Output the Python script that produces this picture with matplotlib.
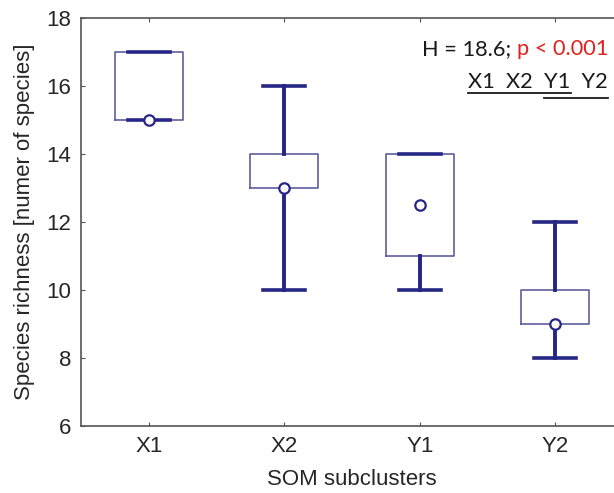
import matplotlib
matplotlib.use("Agg")
import matplotlib.pyplot as plt
from matplotlib.lines import Line2D

# box summary per SOM subcluster
groups = ["X1", "X2", "Y1", "Y2"]
medians = [15, 13, 12.5, 9]
q1 = [15, 13, 11, 9]
q3 = [17, 14, 14, 10]
mins = [15, 10, 10, 8]
maxs = [17, 16, 14, 12]
yticks = [6, 8, 10, 12, 14, 16, 18]

navy = "#262686"
boxcol = "#5f5f9e"

plt.rcParams["font.family"] = ["Liberation Sans", "DejaVu Sans"]

fig = plt.figure(figsize=(6.14, 4.93), dpi=100)
ax = fig.add_axes([81 / 614, 1 - 426 / 493, (623 - 81) / 614, (426 - 18) / 493])

stats = []
for g, m, a, b, lo, hi in zip(groups, medians, q1, q3, mins, maxs):
    stats.append(dict(label=g, med=m, q1=a, q3=b, whislo=lo, whishi=hi, fliers=[]))

pos = list(range(1, len(groups) + 1))
ax.bxp(stats, positions=pos, widths=0.5, capwidths=0.31, showfliers=False,
       boxprops=dict(color=boxcol, linewidth=1.2),
       whiskerprops=dict(color=navy, linewidth=2.8),
       capprops=dict(color=navy, linewidth=2.6),
       medianprops=dict(linewidth=0))
ax.plot(pos, medians, "o", ms=7.5, mfc="white", mec=navy, mew=1.6, zorder=5)

ax.set_xlim(0.5, 4.5)
ax.set_ylim(6, 18)
ax.set_yticks(yticks)
ax.set_xticks(pos)
ax.set_xticklabels(groups)
ax.tick_params(direction="in", length=3, width=0.8, color="#555555",
               top=True, right=True, labelsize=16, labelcolor="#262626", pad=7)
for s in ax.spines.values():
    s.set_color("#555555")
    s.set_linewidth(1.2)

ax.set_xlabel("SOM subclusters", fontsize=16, color="#262626", labelpad=9)
ax.set_ylabel("Species richness [numer of species]", fontsize=16, color="#262626", labelpad=8)

# Kruskal-Wallis annotation
afont = ["Lato", "DejaVu Sans"]
asize = 15.7
xr = 608 / 614
t2 = fig.text(xr, 1 - 49 / 493, "p < 0.001", color="#e0201c", fontsize=asize,
              family=afont, ha="right", va="center")
fig.canvas.draw()
r = fig.canvas.get_renderer()
w2 = t2.get_window_extent(r).width / fig.bbox.width
fig.text(xr - w2, 1 - 49 / 493, "H = 18.6; ", color="#1a1a1a", fontsize=asize,
         family=afont, ha="right", va="center")

line2 = "X1  X2  Y1  Y2"
t3 = fig.text(xr, 1 - 82 / 493, line2, color="#1a1a1a", fontsize=asize,
              family=afont, ha="right", va="center")
fig.canvas.draw()
bb = t3.get_window_extent(r)
W = fig.bbox.width


def width_of(s):
    tt = fig.text(0, 0, s, fontsize=asize, family=afont)
    w = tt.get_window_extent(r).width
    tt.remove()
    return w


x0 = bb.x0
xa = x0 + width_of("X1  X2  Y1")
xb = x0 + width_of("X1  X2  ")
yl1 = 1 - 93 / 493
yl2 = 1 - 98 / 493
fig.add_artist(Line2D([x0 / W, xa / W], [yl1, yl1], color="#1a1a1a", lw=1.3))
fig.add_artist(Line2D([xb / W, bb.x1 / W], [yl2, yl2], color="#1a1a1a", lw=1.3))

fig.savefig("out.png", dpi=100)
